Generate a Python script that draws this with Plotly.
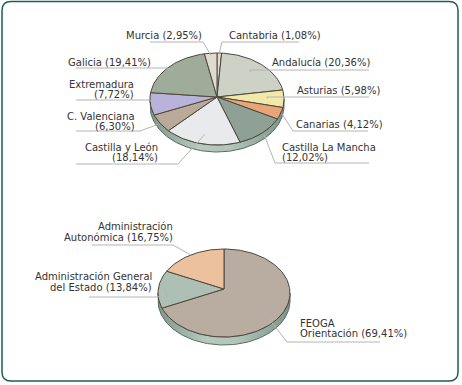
import numpy as np
import plotly.graph_objects as go

# ---------------- data ----------------
top_names = ["Cantabria", "Andalucía", "Asturias", "Canarias", "Castilla La Mancha|",
             "Castilla y León|", "C. Valenciana|", "Extremadura|", "Galicia", "Murcia"]
top_values = [1.08, 20.36, 5.98, 4.12, 12.02, 18.14, 6.30, 7.72, 19.41, 2.95]
top_colors = ["#e6dcd2", "#cdd1c6", "#f1e9a9", "#e8a677", "#8fa197",
              "#e8eaec", "#b9aa9a", "#b9b2da", "#9eac99", "#dedbcf"]

bottom_names = ["FEOGA|Orientación", "Administración General|del Estado", "Administración|Autonómica"]
bottom_values = [69.41, 13.84, 16.75]
bottom_colors = ["#b8ada0", "#aebfb4", "#ecc29e"]

# ---------------- layout config (pixel coordinates) ----------------
W, H = 462, 385
TOP_PIE = dict(cx=217, cy=99, rx=67, ry=46, hub_dy=-2, depth=7)
BOT_PIE = dict(cx=224, cy=293, rx=66, ry=44, hub_dy=-4, depth=8)

# per label: text x, xanchor, line centres, leader line y, elbow x, far x, anchor radius factor
top_label_pos = [
    dict(tx=228, xa="left", ys=[35], ly=42, ex=222, fx=299, r=1.0),
    dict(tx=371, xa="right", ys=[62.5], ly=70, ex=250, fx=369, r=0.76),
    dict(tx=381, xa="right", ys=[90.5], ly=97, ex=267, fx=369, r=0.75),
    dict(tx=384, xa="right", ys=[124], ly=131, ex=293, fx=368, r=1.02),
    dict(tx=281, xa="left", ys=[147.5, 157.5], ly=163, ex=275, fx=369, r=1.05),
    dict(tx=159, xa="right", ys=[147.5, 157.5], ly=164, ex=178, fx=76, r=0.8),
    dict(tx=136, xa="right", ys=[116, 126.5], ly=131, ex=140, fx=76, r=1.04),
    dict(tx=135, xa="right", ys=[84, 94.5], ly=100, ex=150, fx=76, r=0.97),
    dict(tx=152, xa="right", ys=[62.5], ly=68, ex=167, fx=76, r=0.9),
    dict(tx=203, xa="right", ys=[35], ly=42, ex=203, fx=150, r=0.95),
]
bottom_label_pos = [
    dict(tx=299, xa="left", ys=[323.5, 333.5], ly=342, ex=287, fx=380, r=0.7),
    dict(tx=153, xa="right", ys=[276.5, 287], ly=297, ex=167, fx=89, r=0.9),
    dict(tx=174, xa="right", ys=[226.5, 237.5], ly=245, ex=173, fx=92, r=1.0),
]

FONT = dict(family="DejaVu Sans", size=10, color="#333333")
EDGE = "#4d463c"
SIDE_EDGE = "#5a6d63"
LEADER = "#b4b4b4"

fig = go.Figure()
annotations = []


def pct(v):
    return "(" + f"{v:.2f}".replace(".", ",") + "%)"


def label_lines(name, v):
    parts = name.split("|")
    if parts[-1] == "":
        parts[-1] = pct(v)
    else:
        parts[-1] = parts[-1] + " " + pct(v)
    return parts


def draw_pie(values, colors, names, geo, label_pos):
    cx, cy, rx, ry, depth = geo["cx"], geo["cy"], geo["rx"], geo["ry"], geo["depth"]
    hx, hy = cx, cy + geo["hub_dy"]
    vals = np.array(values, dtype=float)
    frac = vals / vals.sum()
    cum = np.concatenate([[0], np.cumsum(frac)])

    # side band (visible lower half)
    th = np.linspace(np.pi / 2, 3 * np.pi / 2, 120)
    xs_top = cx + rx * np.sin(th)
    ys_top = cy - ry * np.cos(th)
    bx = np.concatenate([xs_top, xs_top[::-1], xs_top[:1]])
    by = np.concatenate([ys_top, ys_top[::-1] + depth, ys_top[:1]])
    fig.add_trace(go.Scatter(
        x=bx, y=by, mode="lines", fill="toself",
        fillgradient=dict(type="horizontal",
                          colorscale=[[0, "#7f978b"], [0.35, "#b7c8bd"], [0.6, "#b3c5ba"], [1, "#7c9488"]]),
        line=dict(color=SIDE_EDGE, width=1), hoverinfo="skip", showlegend=False))

    # slices
    for i, (c0, c1) in enumerate(zip(cum[:-1], cum[1:])):
        t = np.linspace(2 * np.pi * c0, 2 * np.pi * c1, max(4, int(200 * (c1 - c0)) + 2))
        px = np.concatenate([[hx], cx + rx * np.sin(t), [hx]])
        py = np.concatenate([[hy], cy - ry * np.cos(t), [hy]])
        fig.add_trace(go.Scatter(
            x=px, y=py, mode="lines", fill="toself", fillcolor=colors[i],
            line=dict(color=EDGE, width=1), hoverinfo="skip", showlegend=False))

    # leader lines + labels
    for i, lp in enumerate(label_pos):
        mid = 2 * np.pi * (cum[i] + cum[i + 1]) / 2
        ax = cx + rx * lp["r"] * np.sin(mid)
        ay = cy + geo["hub_dy"] * (1 - lp["r"]) - ry * lp["r"] * np.cos(mid)
        fig.add_trace(go.Scatter(
            x=[ax, lp["ex"], lp["fx"]], y=[ay, lp["ly"], lp["ly"]], mode="lines",
            line=dict(color=LEADER, width=1), hoverinfo="skip", showlegend=False))
        for txt, yy in zip(label_lines(names[i], values[i]), lp["ys"]):
            annotations.append(dict(
                x=lp["tx"], y=yy, xref="x", yref="y", text=txt, showarrow=False,
                xanchor=lp["xa"], yanchor="middle", font=FONT, borderpad=0))


draw_pie(top_values, top_colors, top_names, TOP_PIE, top_label_pos)
draw_pie(bottom_values, bottom_colors, bottom_names, BOT_PIE, bottom_label_pos)

# rounded frame
x0, y0, x1, y1, rr = 2, 1.5, 458, 381, 9
frame_path = (f"M {x0 + rr},{y0} L {x1 - rr},{y0} Q {x1},{y0} {x1},{y0 + rr} "
              f"L {x1},{y1 - rr} Q {x1},{y1} {x1 - rr},{y1} L {x0 + rr},{y1} "
              f"Q {x0},{y1} {x0},{y1 - rr} L {x0},{y0 + rr} Q {x0},{y0} {x0 + rr},{y0} Z")

fig.update_layout(
    width=W, height=H,
    margin=dict(l=0, r=0, t=0, b=0),
    paper_bgcolor="white", plot_bgcolor="white",
    xaxis=dict(range=[0, W], visible=False, fixedrange=True),
    yaxis=dict(range=[H, 0], visible=False, fixedrange=True),
    shapes=[dict(type="path", path=frame_path, xref="x", yref="y",
                 line=dict(color="#1f5e55", width=1.5), layer="below")],
    annotations=annotations,
    showlegend=False,
    hovermode=False,
)

fig.write_html("out.html", config=dict(displayModeBar=False),
               post_script="document.body.style.margin='0';document.body.style.overflow='hidden';")
